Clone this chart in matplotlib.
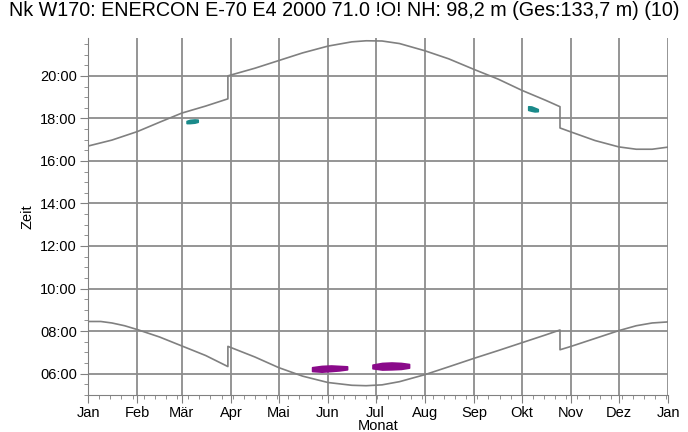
import matplotlib
matplotlib.use('Agg')
import matplotlib.pyplot as plt
from matplotlib.ticker import FixedLocator, MultipleLocator, FuncFormatter

plt.rcParams['font.family'] = ['Liberation Sans', 'DejaVu Sans']

# Monatsanfang (Tag im Jahr) und Beschriftung
month_days = [0, 31, 59, 90, 120, 151, 181, 212, 243, 273, 304, 334, 365]
month_labels = ['Jan', 'Feb', 'Mär', 'Apr', 'Mai', 'Jun', 'Jul', 'Aug', 'Sep', 'Okt', 'Nov', 'Dez', 'Jan']

# Sonnenuntergang (Stunden)
sunset_days = [0, 15, 31, 45, 59, 74, 88, 88, 105, 120, 135, 151, 166, 175, 185, 196, 212, 227,
               243, 258, 273, 288, 297, 297, 304, 319, 334, 345, 355, 365]
sunset_hours = [16.70, 16.98, 17.38, 17.82, 18.25, 18.58, 18.92, 20.00, 20.36, 20.72, 21.08, 21.40,
                21.60, 21.65, 21.64, 21.52, 21.18, 20.80, 20.30, 19.85, 19.32, 18.85, 18.55, 17.55,
                17.36, 16.96, 16.66, 16.55, 16.55, 16.65]

# Sonnenaufgang (Stunden)
sunrise_days = [0, 8, 15, 23, 31, 45, 59, 74, 88, 88, 105, 120, 135, 151, 166, 175, 185, 196, 212,
                227, 243, 258, 273, 288, 297, 297, 304, 319, 334, 345, 355, 365]
sunrise_hours = [8.45, 8.45, 8.38, 8.25, 8.07, 7.72, 7.30, 6.85, 6.33, 7.28, 6.78, 6.28, 5.88, 5.58,
                 5.45, 5.43, 5.47, 5.62, 5.95, 6.32, 6.72, 7.08, 7.45, 7.82, 8.05, 7.12, 7.28, 7.65,
                 8.02, 8.25, 8.38, 8.43]

# Schattenzeiten: Tage, untere und obere Zeit je Fleck
shadow_days = [[62, 64, 67, 69], [277, 279, 281, 283], [141, 147, 153, 158, 163], [179, 185, 191, 197, 202]]
shadow_low = [[17.78, 17.78, 17.80, 17.84], [18.40, 18.36, 18.33, 18.34], [6.12, 6.09, 6.12, 6.15, 6.20], [6.25, 6.19, 6.20, 6.22, 6.28]]
shadow_high = [[17.88, 17.93, 17.95, 17.94], [18.57, 18.56, 18.50, 18.44], [6.30, 6.36, 6.38, 6.36, 6.34], [6.42, 6.50, 6.52, 6.50, 6.45]]
shadow_colors = ['#1a8a8a', '#1a8a8a', '#8a0a8a', '#8a0a8a']

fig = plt.figure(figsize=(6.88, 4.32), dpi=100)
ax = fig.add_axes([0.128, 0.086, 0.843, 0.826])

ax.plot(sunset_days, sunset_hours, color='#808080', lw=1.2, zorder=3)
ax.plot(sunrise_days, sunrise_hours, color='#808080', lw=1.2, zorder=3)

for d, lo, hi, c in zip(shadow_days, shadow_low, shadow_high, shadow_colors):
    ax.fill_between(d, lo, hi, color=c, lw=1.2, edgecolor=c, zorder=4)

ax.set_xlim(0, 365)
ax.set_ylim(5.0, 21.78)

ax.xaxis.set_major_locator(FixedLocator(month_days))
ax.set_xticks(month_days)
ax.set_xticklabels(month_labels)
ax.xaxis.set_minor_locator(MultipleLocator(7))

ax.yaxis.set_major_locator(MultipleLocator(2))
ax.yaxis.set_minor_locator(MultipleLocator(0.5))
ax.yaxis.set_major_formatter(FuncFormatter(lambda v, p: '%02d:00' % int(round(v))))

ax.grid(True, which='major', color='#8c8c8c', lw=1.3)
ax.set_axisbelow(True)
for s in ['top', 'right']:
    ax.spines[s].set_visible(False)
for s in ['left', 'bottom']:
    ax.spines[s].set_color('#808080')

ax.tick_params(which='major', length=6, color='#808080', labelsize=10.5, pad=2)
ax.tick_params(which='minor', length=3, color='#808080')

ax.set_xlabel('Monat', fontsize=10.5, labelpad=-1)
ax.set_ylabel('Zeit', fontsize=10.5, labelpad=4)
fig.suptitle('Nk W170: ENERCON E-70 E4 2000 71.0 !O! NH: 98,2 m (Ges:133,7 m) (10)',
             fontsize=14.2, x=0.5, y=0.998)

fig.savefig('out.png', dpi=100)
